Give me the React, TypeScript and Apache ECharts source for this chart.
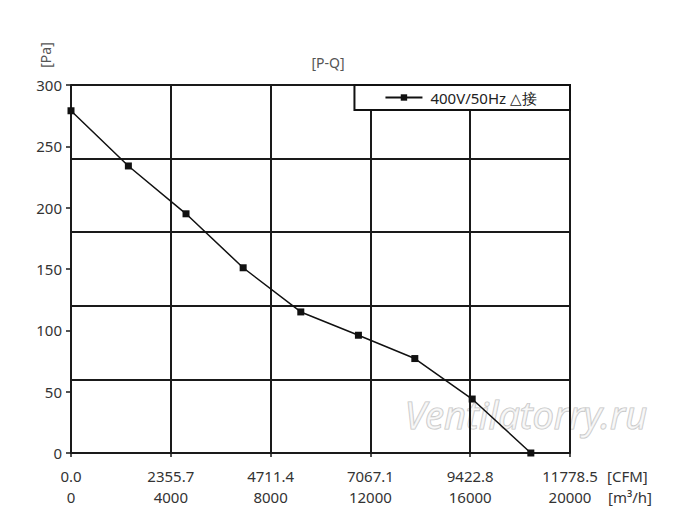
import React, { useEffect, useRef } from "react";
import * as echarts from "echarts";

const flowM3h = [0, 2300, 4610, 6900, 9210, 11520, 13780, 16080, 18430];
const pressurePa = [279, 234, 195, 151, 115, 96, 77, 44, 0];
const m3hTicks = [0, 4000, 8000, 12000, 16000, 20000];
const cfmLabels = ["0.0", "2355.7", "4711.4", "7067.1", "9422.8", "11778.5"];
const seriesName = "400V/50Hz △接";

const FONT = "Noto Sans";

export default function App() {
  const ref = useRef<HTMLDivElement>(null);
  useEffect(() => {
    if (!ref.current) return;
    const chart = echarts.init(ref.current, null, { renderer: "svg" });
    const data = flowM3h.map((x, i) => [x, pressurePa[i]]);
    chart.setOption({
      animation: false,
      backgroundColor: "#fff",
      textStyle: { fontFamily: FONT },
      grid: { left: 71, right: 130, top: 85, bottom: 78, containLabel: false },
      legend: {
        data: [seriesName],
        right: 130,
        top: 85,
        borderColor: "#111",
        borderWidth: 2,
        borderRadius: 0,
        backgroundColor: "#fff",
        padding: [5, 30, 5, 30],
        itemWidth: 37,
        itemHeight: 8,
        textStyle: { fontFamily: FONT, fontSize: 15, color: "#222", padding: [0, 0, 0, 3] },
      },
      xAxis: {
        type: "value",
        min: 0,
        max: 20000,
        interval: 4000,
        axisLine: { show: true, lineStyle: { color: "#1a1a1a", width: 2 } },
        axisTick: { show: true, length: 4, lineStyle: { color: "#1a1a1a", width: 1.5 } },
        splitLine: { show: true, lineStyle: { color: "#1a1a1a", width: 2 } },
        axisLabel: {
          margin: 12,
          formatter: (v: number) => {
            const i = m3hTicks.indexOf(v);
            return `{a|${cfmLabels[i]}}\n{b|${m3hTicks[i]}}`;
          },
          rich: {
            a: { fontFamily: FONT, fontSize: 15, color: "#333", lineHeight: 21 },
            b: { fontFamily: FONT, fontSize: 15, color: "#333", lineHeight: 21 },
          },
        },
      },
      yAxis: [
        {
          type: "value",
          min: 0,
          max: 300,
          interval: 50,
          axisLine: { show: true, lineStyle: { color: "#1a1a1a", width: 2 } },
          axisTick: { show: true, length: 5, lineStyle: { color: "#1a1a1a", width: 1.5 } },
          splitLine: { show: false },
          axisLabel: { margin: 9, fontFamily: FONT, fontSize: 15, color: "#333" },
        },
        {
          type: "value",
          min: 0,
          max: 300,
          interval: 60,
          position: "left",
          axisLine: { show: false },
          axisTick: { show: false },
          axisLabel: { show: false },
          splitLine: { show: true, lineStyle: { color: "#1a1a1a", width: 2 } },
        },
      ],
      graphic: [
        {
          type: "text",
          x: 328,
          y: 62,
          style: {
            text: "[P-Q]",
            fontFamily: FONT,
            fontSize: 14,
            fill: "#555",
            align: "center",
            verticalAlign: "middle",
          },
        },
        {
          type: "text",
          x: 45,
          y: 55,
          rotation: Math.PI / 2,
          style: {
            text: "[Pa]",
            fontFamily: FONT,
            fontSize: 14,
            fill: "#555",
            align: "center",
            verticalAlign: "middle",
          },
        },
        {
          type: "text",
          x: 607,
          y: 476,
          style: {
            text: "[CFM]",
            fontFamily: FONT,
            fontSize: 15,
            fill: "#333",
            align: "left",
            verticalAlign: "middle",
          },
        },
        {
          type: "text",
          x: 608,
          y: 497,
          style: {
            text: "[m³/h]",
            fontFamily: FONT,
            fontSize: 15,
            fill: "#333",
            align: "left",
            verticalAlign: "middle",
          },
        },
        {
          type: "text",
          x: 526,
          y: 414,
          z: -10,
          style: {
            text: "Ventilatorry.ru",
            fontFamily: FONT,
            fontStyle: "italic",
            fontSize: 38,
            fill: "rgba(245,245,245,0.6)",
            stroke: "#c4c4c4",
            lineWidth: 1.2,
            align: "center",
            verticalAlign: "middle",
          },
        },
      ],
      series: [
        {
          name: seriesName,
          type: "line",
          data,
          yAxisIndex: 0,
          symbol: "rect",
          symbolSize: 7,
          itemStyle: { color: "#111" },
          lineStyle: { color: "#111", width: 1.5 },
          z: 5,
        },
      ],
    });
    return () => chart.dispose();
  }, []);
  return (
    <div
      ref={ref}
      style={{ position: "fixed", left: 0, top: 0, width: 700, height: 531, background: "#fff" }}
    />
  );
}
